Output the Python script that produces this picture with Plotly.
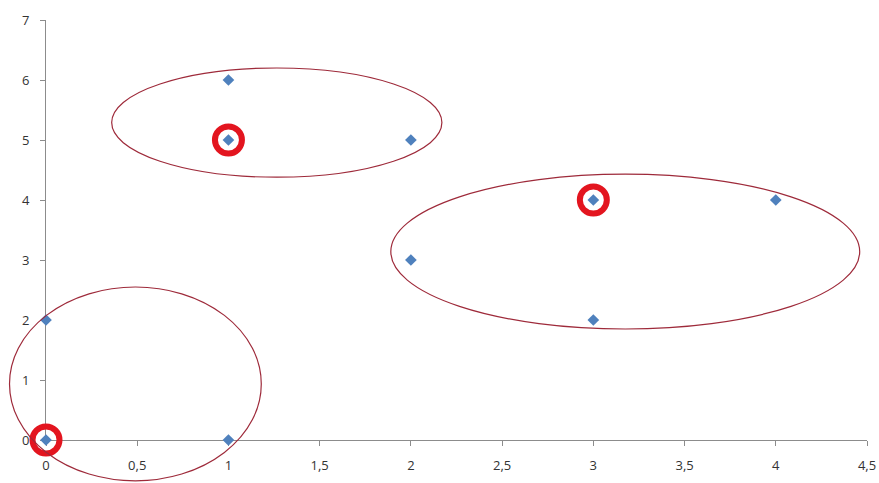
import plotly.graph_objects as go

# Data points
x_vals = [0, 0, 1, 1, 1, 2, 2, 3, 3, 4]
y_vals = [0, 2, 0, 6, 5, 5, 3, 4, 2, 4]

# Highlighted points (red rings)
hl_x = [0, 1, 3]
hl_y = [0, 5, 4]

# Cluster ellipses: (x0, x1, y0, y1) in data units
ellipses = [
    (-0.20, 1.18, -0.68, 2.55),
    (0.36, 2.17, 4.38, 6.20),
    (1.89, 4.46, 1.85, 4.43),
]

# Axis ticks
x_ticks = [0, 0.5, 1, 1.5, 2, 2.5, 3, 3.5, 4, 4.5]
x_labels = ["0", "0,5", "1", "1,5", "2", "2,5", "3", "3,5", "4", "4,5"]
y_ticks = [0, 1, 2, 3, 4, 5, 6, 7]

W, H = 879, 483
# plot area in pixels
L, R, T, B = 46, 867, 20, 440
xr = [0, 4.5]
yr = [0, 7]

xd = [L / W, R / W]
yd = [(H - B) / H, (H - T) / H]

# secondary (invisible) axes spanning the whole canvas with the same scale
sx = (xr[1] - xr[0]) / (R - L)
sy = (yr[1] - yr[0]) / (B - T)
x2r = [xr[0] - L * sx, xr[1] + (W - R) * sx]
y2r = [yr[0] - (H - B) * sy, yr[1] + T * sy]

fig = go.Figure()

fig.add_trace(go.Scatter(
    x=hl_x, y=hl_y, mode="markers",
    marker=dict(symbol="circle-open", size=27, color="#E3151F",
                line=dict(width=6, color="#E3151F")),
    showlegend=False, hoverinfo="skip", cliponaxis=False,
))
fig.add_trace(go.Scatter(
    x=x_vals, y=y_vals, mode="markers",
    marker=dict(symbol="diamond", size=9, color="#4F81BD"),
    showlegend=False, cliponaxis=False,
))

for (x0, x1, y0, y1) in ellipses:
    fig.add_shape(type="circle", xref="x2", yref="y2",
                  x0=x0, x1=x1, y0=y0, y1=y1,
                  line=dict(color="#9E2A3A", width=1.2))

axis_font = dict(family="Open Sans, Noto Sans, sans-serif", size=13, color="#333333")

fig.update_layout(
    width=W, height=H,
    margin=dict(l=0, r=0, t=0, b=0, autoexpand=False),
    paper_bgcolor="white", plot_bgcolor="rgba(0,0,0,0)",
    xaxis=dict(domain=xd, range=xr, tickvals=x_ticks, ticktext=x_labels,
               showgrid=False, zeroline=False, showline=True, automargin=False,
               linecolor="#8C8C8C", linewidth=1, ticks="outside",
               ticklen=5, tickcolor="#8C8C8C", tickfont=axis_font,
               ticklabelstandoff=8, layer="below traces"),
    yaxis=dict(domain=yd, range=yr, tickvals=y_ticks,
               showgrid=False, zeroline=False, showline=True, automargin=False,
               linecolor="#8C8C8C", linewidth=1, ticks="outside",
               ticklen=5, tickcolor="#8C8C8C", tickfont=axis_font,
               ticklabelstandoff=8, layer="below traces"),
    xaxis2=dict(domain=[0, 1], range=x2r, visible=False, anchor="y2",
                automargin=False),
    yaxis2=dict(domain=[0, 1], range=y2r, visible=False, anchor="x2",
                automargin=False),
)

fig.write_html("out.html")
